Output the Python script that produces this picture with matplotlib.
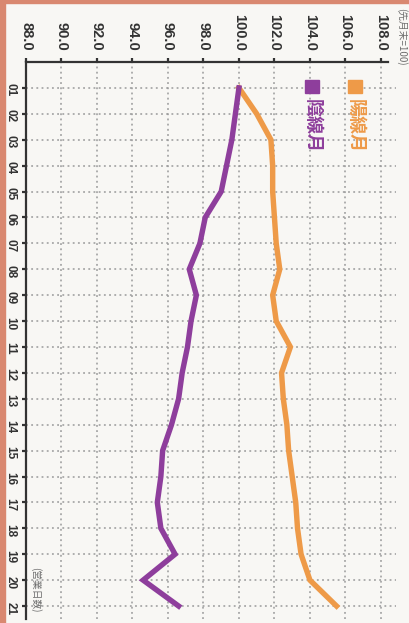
import matplotlib
matplotlib.use("Agg")
import matplotlib.pyplot as plt
from matplotlib.patches import Rectangle

# Trading day of the month (1..21) and index level (previous month-end = 100)
days = list(range(1, 22))
day_labels = [f"{d:02d}" for d in days]
value_ticks = [88.0, 90.0, 92.0, 94.0, 96.0, 98.0, 100.0, 102.0, 104.0, 106.0, 108.0]

up_month = [100.0, 101.0, 101.8, 101.9, 101.9, 102.0, 102.1, 102.3, 101.9, 102.1,
            102.9, 102.4, 102.5, 102.7, 102.8, 103.0, 103.2, 103.3, 103.5, 104.0, 105.5]
down_month = [100.0, 99.8, 99.6, 99.3, 99.0, 98.1, 97.8, 97.2, 97.6, 97.3,
              97.1, 96.8, 96.6, 96.2, 95.7, 95.6, 95.4, 95.6, 96.4, 94.6, 96.6]

series_names = ["陽線月", "陰線月"]
orange = "#EE9A48"
purple = "#8E3E9C"

W, H = 410, 623
fig = plt.figure(figsize=(W / 100, H / 100), dpi=100)
fig.patch.set_facecolor("#F8F7F4")

# scanned page edge
fig.patches.append(Rectangle((0, 0), 5 / W, 1, transform=fig.transFigure,
                             color="#D98870", zorder=0))
fig.patches.append(Rectangle((0, 1 - 3 / H), 1, 3 / H, transform=fig.transFigure,
                             color="#D98870", zorder=0))

left, top, right, bottom = 26, 62, 396, 619
ax = fig.add_axes([left / W, 1 - bottom / H, (right - left) / W, (bottom - top) / H])
ax.set_facecolor("none")

ax.plot(up_month, days, color=orange, lw=3.9, solid_joinstyle="miter", zorder=3)
ax.plot(down_month, days, color=purple, lw=3.9, solid_joinstyle="miter", zorder=3)

ax.set_xlim(88, 108.85)
ax.set_ylim(21.5, 0)

ax.xaxis.tick_top()
ax.set_xticks(value_ticks)
ax.set_xticklabels([f"{v:.1f}" for v in value_ticks], rotation=-90,
                   fontsize=10.5, fontweight="bold", color="#333333",
                   family="Liberation Sans")
ax.set_yticks(days)
ax.set_yticklabels(day_labels, rotation=-90, fontsize=8.5, fontweight="bold",
                   color="#333333", family="Liberation Sans")
ax.tick_params(axis="x", length=3, width=1.6, color="#333333", pad=5)
ax.tick_params(axis="y", length=3, width=1.6, color="#333333", pad=4)

for s in ["bottom", "right"]:
    ax.spines[s].set_visible(False)
for s in ["top", "left"]:
    ax.spines[s].set_color("#333333")
    ax.spines[s].set_linewidth(1.6)
ax.spines["top"].set_bounds(88, 108.4)

ax.grid(True, color="#9A9A9A", linestyle=(0, (1.2, 2.2)), linewidth=1.1, zorder=1)

# legend: colour squares with vertical labels
jp = ["Noto Sans CJK JP", "DejaVu Sans"]
for cx, col, name in [(355, orange, series_names[0]), (312, purple, series_names[1])]:
    fig.patches.append(Rectangle(((cx - 7) / W, 1 - 93 / H), 14 / W, 13 / H,
                                 transform=fig.transFigure, color=col, zorder=4))
    fig.text(cx / W, 1 - 99 / H, name, rotation=-90, ha="center", va="top",
             fontsize=13, color=col, family=jp, fontweight="bold")

fig.text(402 / W, 1 - 8 / H, "(先月末=100)", rotation=-90, ha="center", va="top",
         fontsize=7, color="#6E6E6E", family=jp)
fig.text(36 / W, 1 - 567 / H, "(営業日数)", rotation=-90, ha="center", va="top",
         fontsize=7, color="#6E6E6E", family=jp)

fig.savefig("out.png", dpi=100, facecolor=fig.get_facecolor())
